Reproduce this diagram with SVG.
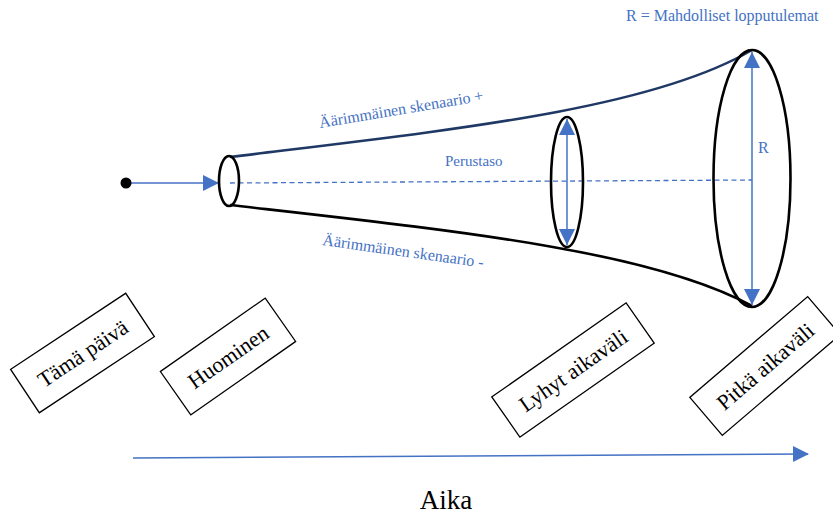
<svg xmlns="http://www.w3.org/2000/svg" width="833" height="515" viewBox="0 0 833 515">
<style>
.blue{fill:#4472C4}
.lbl{font-size:22px;fill:#000}
.box{fill:#fff;stroke:#000;stroke-width:1.3}
.ell{fill:none;stroke:#000;stroke-width:2.6}
.bl{stroke:#4472C4;stroke-width:1.5;fill:none}
</style>
<defs>
<marker id="ahb" markerWidth="16" markerHeight="18" refX="15" refY="8" orient="auto" markerUnits="userSpaceOnUse"><path d="M0,0 L16,8 L0,16 z" fill="#4472C4"/></marker>
<marker id="ahs" markerWidth="16" markerHeight="18" refX="16" refY="8" orient="auto-start-reverse" markerUnits="userSpaceOnUse"><path d="M0,0 L16,8 L0,16 z" fill="#4472C4"/></marker>
</defs>
<g id="connectors">
<line x1="126" y1="183" x2="218" y2="183" class="bl" marker-end="url(#ahb)"/>
<path d="M230,183 L752,180" stroke="#4472C4" stroke-width="1.3" stroke-dasharray="5,3.5" fill="none"/>
<path d="M230,157 C450,130 650,110 752,50" fill="none" stroke="#1F3864" stroke-width="2.6"/>
<path d="M230,205 C450,230 650,250 752,306" fill="none" stroke="#000" stroke-width="2.6"/>
<line x1="567" y1="119" x2="567" y2="245" class="bl" marker-start="url(#ahs)" marker-end="url(#ahs)"/>
<line x1="752" y1="52" x2="752" y2="305" class="bl" marker-start="url(#ahs)" marker-end="url(#ahs)"/>
<path d="M133,458 L808,454" class="bl" stroke-width="1.8" marker-end="url(#ahb)"/>
</g>
<g id="start"><circle cx="126" cy="183" r="5.5" fill="#000"/></g>
<g id="ellipse-small"><ellipse cx="229" cy="181" rx="10" ry="25" class="ell"/></g>
<g id="ellipse-mid"><ellipse cx="567" cy="182" rx="16" ry="65" class="ell"/></g>
<g id="ellipse-big"><ellipse cx="752" cy="178.5" rx="38.5" ry="128.5" class="ell"/></g>
<g id="labels" font-family="Liberation Serif, serif">
<text x="626" y="21" class="blue" font-size="16">R = Mahdolliset lopputulemat</text>
<text x="758" y="153" class="blue" font-size="16">R</text>
<text x="445" y="166" class="blue" font-size="15">Perustaso</text>
<text transform="translate(320,128) rotate(-9.5)" class="blue" font-size="16">Äärimmäinen skenaario +</text>
<text transform="translate(322,245) rotate(8)" class="blue" font-size="16">Äärimmäinen skenaario -</text>
<text x="446" y="509" text-anchor="middle" font-size="27" fill="#000">Aika</text>
</g>
<g id="box-tama" transform="translate(82.5,353) rotate(-33.5)" font-family="Liberation Serif, serif">
<rect x="-69" y="-26" width="138" height="52" class="box"/>
<text x="0" y="8" text-anchor="middle" class="lbl">Tämä päivä</text>
</g>
<g id="box-huominen" transform="translate(228,356.5) rotate(-35)" font-family="Liberation Serif, serif">
<rect x="-64" y="-26.5" width="128" height="53" class="box"/>
<text x="0" y="8" text-anchor="middle" class="lbl">Huominen</text>
</g>
<g id="box-lyhyt" transform="translate(573,370) rotate(-35)" font-family="Liberation Serif, serif">
<rect x="-82" y="-24.5" width="164" height="49" class="box"/>
<text x="0" y="8" text-anchor="middle" class="lbl">Lyhyt aikaväli</text>
</g>
<g id="box-pitka" transform="translate(765,366) rotate(-40.5)" font-family="Liberation Serif, serif">
<rect x="-77.5" y="-25" width="155" height="50" class="box"/>
<text x="0" y="8" text-anchor="middle" class="lbl">Pitkä aikaväli</text>
</g>
</svg>
